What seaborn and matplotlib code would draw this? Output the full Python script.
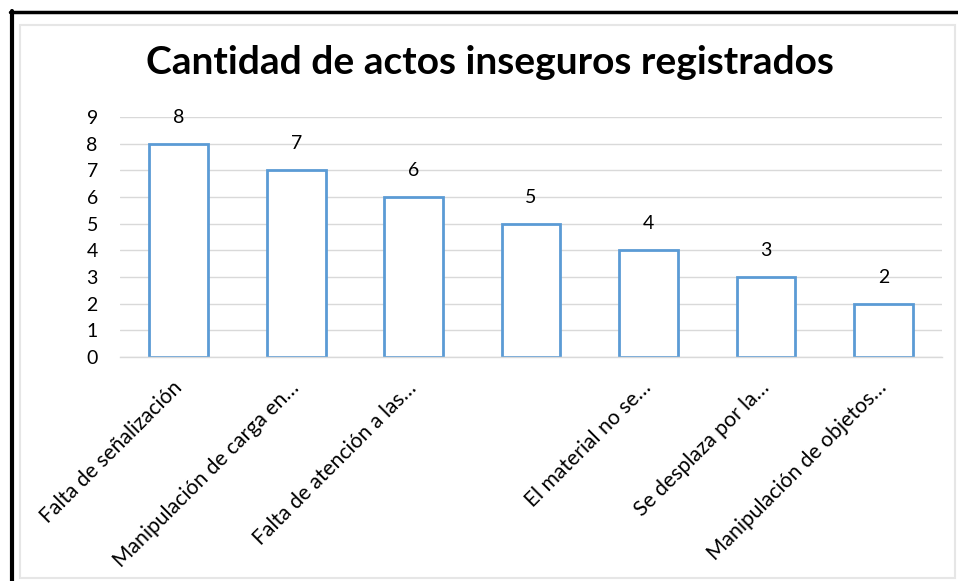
import matplotlib
matplotlib.use("Agg")
import matplotlib.pyplot as plt
import seaborn as sns
import pandas as pd
from matplotlib.patches import Rectangle
from matplotlib.lines import Line2D

categories = [
    "Falta de señalización",
    "Manipulación de carga en…",
    "Falta de atención a las…",
    "",
    "El material no se…",
    "Se desplaza por la…",
    "Manipulación de objetos…",
]
values = [8, 7, 6, 5, 4, 3, 2]
yticks = [0, 1, 2, 3, 4, 5, 6, 7, 8, 9]
title = "Cantidad de actos inseguros registrados"

sns.set_theme(style="white")
plt.rcParams['font.family'] = ['Lato', 'DejaVu Sans']
plt.rcParams['text.color'] = 'black'
plt.rcParams['xtick.color'] = 'black'
plt.rcParams['ytick.color'] = 'black'

df = pd.DataFrame({"cat": [f"c{i}" for i in range(len(values))], "val": values})

fig = plt.figure(figsize=(9.58, 5.81), dpi=100)
ax = fig.add_axes([0.1253, 0.3855, 0.8580, 0.4131])

sns.barplot(data=df, x="cat", y="val", ax=ax, color="white", width=0.5,
            edgecolor="#5b9bd5", linewidth=2, saturation=1)

ax.set_ylim(0, 9)
ax.set_yticks(yticks)
ax.set_yticklabels([str(t) for t in yticks], fontsize=14)
ax.yaxis.grid(True, color="#d9d9d9", linewidth=1)
ax.set_axisbelow(True)
for s in ["top", "right", "left"]:
    ax.spines[s].set_visible(False)
ax.spines["bottom"].set_color("#d9d9d9")
ax.spines["bottom"].set_linewidth(1)
ax.tick_params(axis="both", length=0, colors="black")
ax.tick_params(axis="y", pad=16)
ax.set_xlabel("")
ax.set_ylabel("")
ax.set_xticks(range(len(values)))
ax.set_xticklabels(categories, rotation=45, ha="right", va="center",
                   rotation_mode="anchor", fontsize=15.2)
ax.tick_params(axis="x", pad=20)

for i, v in enumerate(values):
    ax.annotate(str(v), (i, v), xytext=(0, 13), textcoords="offset points",
                ha="center", va="bottom", fontsize=14)

fig.text(0.511, 0.893, title, ha="center", va="center", fontsize=28,
         fontweight="bold")

# outer frame lines (black left & top) and inner light border
fig.add_artist(Line2D([11.5/958, 11.5/958], [0, 1 - 11/581], color="black",
                      linewidth=3, transform=fig.transFigure))
fig.add_artist(Line2D([10/958, 1], [1 - 12/581, 1 - 12/581], color="black",
                      linewidth=2.5, transform=fig.transFigure))
fig.add_artist(Rectangle((20/958, 3/581), 935/958, 553/581, fill=False,
                         edgecolor="#e6e6e6", linewidth=1.5,
                         transform=fig.transFigure))

fig.savefig("out.png", dpi=100)
